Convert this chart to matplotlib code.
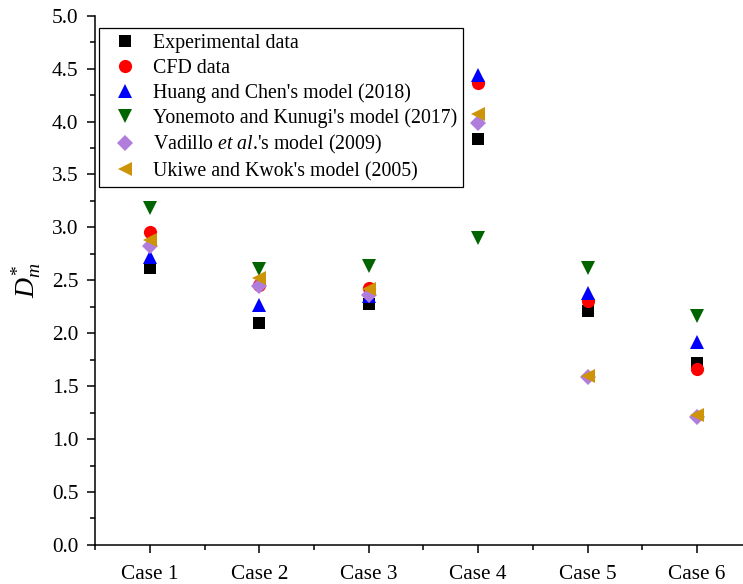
import matplotlib
matplotlib.use("Agg")
import matplotlib.pyplot as plt
from matplotlib.ticker import MultipleLocator

plt.rcParams['font.family'] = ['Liberation Serif', 'DejaVu Serif']
plt.rcParams['mathtext.fontset'] = 'custom'
plt.rcParams['mathtext.rm'] = 'Liberation Serif'
plt.rcParams['mathtext.it'] = 'Liberation Serif:italic'

cases = ["Case 1", "Case 2", "Case 3", "Case 4", "Case 5", "Case 6"]
experimental = [2.62, 2.10, 2.28, 3.84, 2.21, 1.72]
cfd = [2.96, 2.46, 2.43, 4.36, 2.30, 1.66]
huang_chen = [2.72, 2.27, 2.35, 4.44, 2.38, 1.92]
yonemoto_kunugi = [3.18, 2.61, 2.64, 2.90, 2.62, 2.16]
vadillo = [2.82, 2.45, 2.36, 3.99, 1.59, 1.21]
ukiwe_kwok = [2.88, 2.52, 2.42, 4.07, 1.60, 1.23]

series = [
    (experimental, "Experimental data", "s", "black", 8.5),
    (cfd, "CFD data", "o", "red", 9.5),
    (huang_chen, "Huang and Chen's model (2018)", "^", "blue", 10.5),
    (yonemoto_kunugi, "Yonemoto and Kunugi's model (2017)", "v", "#006400", 10.5),
    (vadillo, r"Vadillo $\mathit{et\ al}$.'s model (2009)", "D", "#b07ddc", 8),
    (ukiwe_kwok, "Ukiwe and Kwok's model (2005)", "<", "#cc9406", 10.5),
]

fig = plt.figure(figsize=(7.43, 5.84), dpi=100)
ax = fig.add_axes([0.128, 0.067, 0.872, 0.906])

x = list(range(1, len(cases) + 1))
for vals, label, marker, color, ms in series:
    ax.plot(x, vals, linestyle="none", marker=marker, color=color,
            markersize=ms, markeredgewidth=0, label=label)

ax.set_xlim(0.5, 6.42)
ax.set_ylim(0, 5.0)
ax.set_xticks(x)
ax.set_xticklabels(cases)
ax.xaxis.set_minor_locator(MultipleLocator(0.5))
ax.yaxis.set_major_locator(MultipleLocator(0.5))
ax.yaxis.set_minor_locator(MultipleLocator(0.25))
ax.yaxis.set_major_formatter(plt.FormatStrFormatter("%.1f"))

ax.spines["top"].set_visible(False)
ax.spines["right"].set_visible(False)
for s in ("left", "bottom"):
    ax.spines[s].set_linewidth(1.1)
ax.tick_params(which="major", direction="out", length=6, width=1.1, labelsize=15.3)
ax.tick_params(axis="y", which="major", pad=6)
ax.tick_params(axis="x", which="major", pad=8.5)
ax.tick_params(which="minor", direction="out", length=3.5, width=1.1)

ax.set_ylabel(r"$D_m^{\mathrm{*}}$", fontsize=20, labelpad=6)

leg = ax.legend(loc="upper left", bbox_to_anchor=(0.006, 0.976), fontsize=14.3,
                frameon=True, fancybox=False, edgecolor="black", framealpha=1,
                handletextpad=0.4, labelspacing=0.27, borderpad=0.3,
                handlelength=2.0, borderaxespad=0)
leg.get_frame().set_linewidth(0.9)

fig.savefig("out.png", dpi=100)
